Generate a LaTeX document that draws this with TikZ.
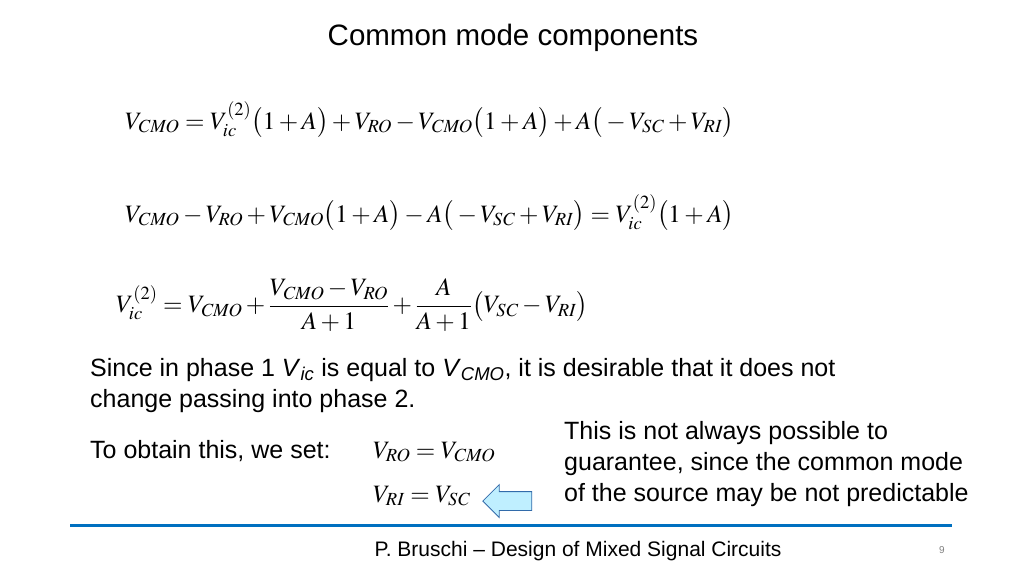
\documentclass[tikz,border=0pt]{standalone}
\usepackage{amsmath}
\usepackage{mathptmx}
\usepackage{fontspec}
\setmainfont{Liberation Sans}
\usetikzlibrary{shapes.arrows}
\tikzset{txt/.style={anchor=base west,inner sep=0pt,font=\fontsize{25}{31}\selectfont},
eq/.style={anchor=west,inner sep=0pt,font=\fontsize{25}{30}\selectfont}}
\newcommand{\sbs}[1]{_{\mathit{#1}}}
\begin{document}
\begin{tikzpicture}[x=1pt,y=-1pt]
\useasboundingbox (0,0) rectangle (1024,576);
\node[anchor=base,inner sep=0pt,font=\fontsize{29.5}{34}\selectfont] (title) at (513,45) {Common mode components};
\node[eq] (e1) at (125,120) {$V\sbs{CMO}=V\sbs{ic}^{(2)}\big(1+A\big)+V\sbs{RO}-V\sbs{CMO}\big(1+A\big)+A\big(-V\sbs{SC}+V\sbs{RI}\big)$};
\node[eq] (e2) at (125,213) {$V\sbs{CMO}-V\sbs{RO}+V\sbs{CMO}\big(1+A\big)-A\big(-V\sbs{SC}+V\sbs{RI}\big)=V\sbs{ic}^{(2)}\big(1+A\big)$};
\node[eq] (e3) at (116,305) {$V\sbs{ic}^{(2)}=V\sbs{CMO}+\dfrac{V\sbs{CMO}-V\sbs{RO}}{A+1}+\dfrac{A}{A+1}\big(V\sbs{SC}-V\sbs{RI}\big)$};
\node[txt] (t1) at (90,376) {Since in phase 1 \textit{V}\textsubscript{\textit{ic}} is equal to \textit{V}\textsubscript{\textit{CMO}}, it is desirable that it does not};
\node[txt] (t2) at (90,407) {change passing into phase 2.};
\node[txt] (t3) at (90,458) {To obtain this, we set:};
\node[eq] (e4) at (373,452) {$V\sbs{RO}=V\sbs{CMO}$};
\node[eq] (e5) at (373,496) {$V\sbs{RI}=V\sbs{SC}$};
\node[txt,align=left,anchor=north west] (t4) at (564,421) {This is not always possible to\\guarantee, since the common mode\\of the source may be not predictable};
\node[single arrow,shape border rotate=180,draw=black!30!cyan!60!blue,fill=blue!25!cyan!25,minimum width=32pt,minimum height=49pt,single arrow head extend=7pt,single arrow head indent=0pt,inner xsep=0pt,inner ysep=9pt,line width=0.8pt] (ar) at (512,501) {};
\draw[line width=3pt,color={rgb,255:red,0;green,112;blue,192}] (70,525) -- (952,525);
\node[anchor=base,inner sep=0pt,font=\fontsize{21}{25}\selectfont] (foot) at (578,556) {P. Bruschi -- Design of Mixed Signal Circuits};
\node[anchor=base,inner sep=0pt,font=\fontsize{10}{12}\selectfont,text=gray] (pg) at (942,553) {9};
\end{tikzpicture}
\end{document}
